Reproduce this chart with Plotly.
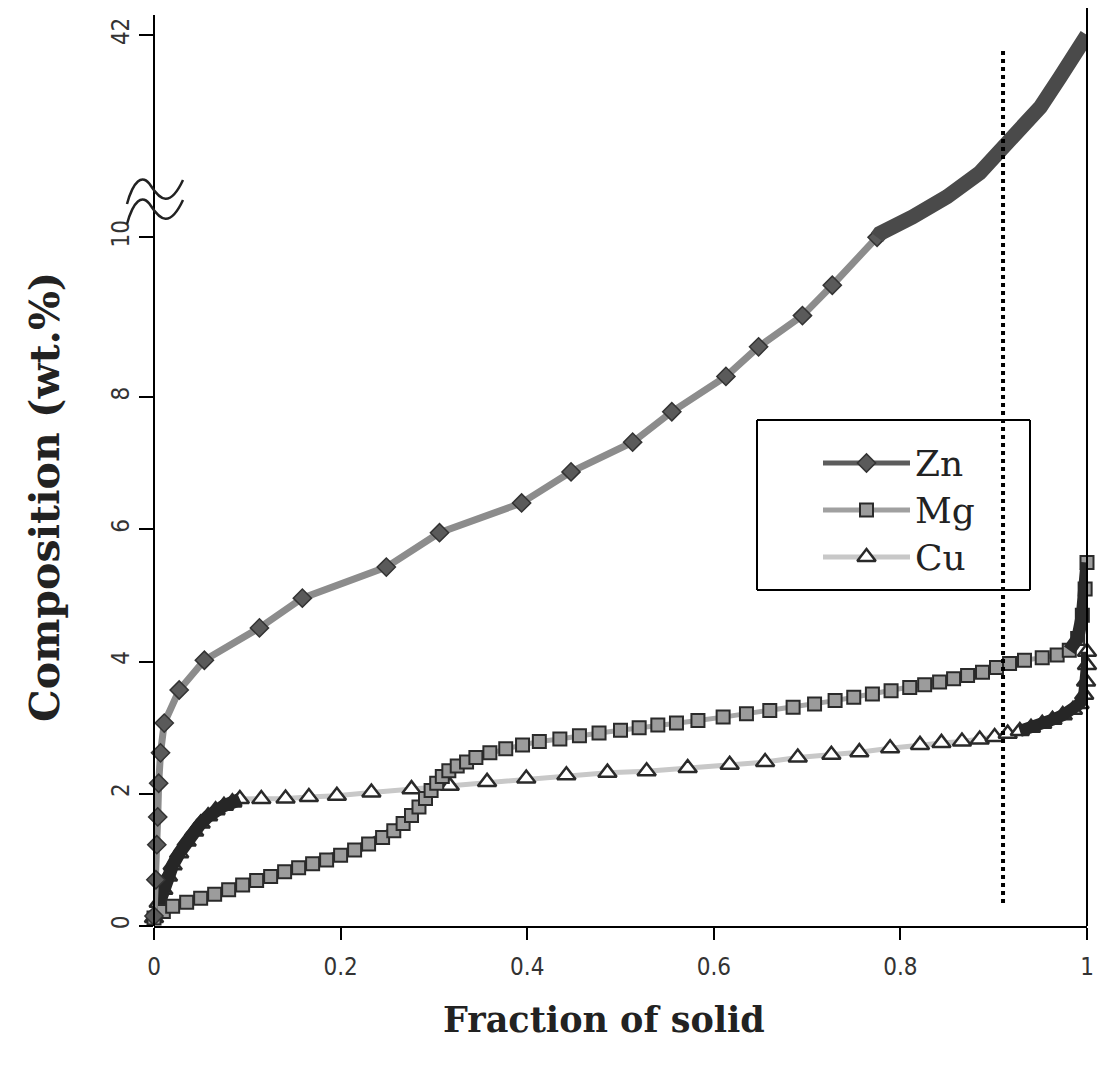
import numpy as np
import plotly.graph_objects as go

# ---------------- data ----------------
zn_x = [0.000, 0.002, 0.003, 0.004, 0.005, 0.007, 0.011, 0.027, 0.054, 0.113,
        0.159, 0.249, 0.306, 0.394, 0.447, 0.513, 0.555, 0.613, 0.648, 0.695,
        0.727, 0.775]
zn_y = [0.15, 0.70, 1.23, 1.65, 2.16, 2.62, 3.07, 3.57, 4.02, 4.51,
        4.96, 5.43, 5.95, 6.40, 6.87, 7.32, 7.78, 8.26, 8.63, 9.02,
        9.40, 10.0]
zn_hi_x = [0.775, 0.778, 0.813, 0.850, 0.885, 0.909, 0.928, 0.950, 0.971, 0.992, 1.000]
zn_hi_y = [10.0, 10.6, 13.2, 16.4, 20.2, 23.8, 26.5, 30.6, 35.3, 40.1, 42.0]

mg_x = [0.000, 0.010, 0.020, 0.035, 0.050, 0.065, 0.080, 0.095, 0.110, 0.125,
        0.140, 0.155, 0.170, 0.185, 0.200, 0.215, 0.230, 0.245, 0.257, 0.267,
        0.276, 0.284, 0.291, 0.297, 0.303, 0.309, 0.316, 0.325, 0.335, 0.345,
        0.360, 0.377, 0.395, 0.413, 0.435, 0.456, 0.477, 0.500, 0.520, 0.540,
        0.560, 0.583, 0.610, 0.635, 0.660, 0.685, 0.708, 0.730, 0.750, 0.770,
        0.790, 0.810, 0.826, 0.842, 0.857, 0.872, 0.888, 0.903, 0.917, 0.933,
        0.952, 0.968, 0.981, 0.990, 0.995, 0.998, 1.000]
mg_y = [0.12, 0.22, 0.30, 0.36, 0.42, 0.48, 0.55, 0.62, 0.69, 0.75,
        0.82, 0.88, 0.94, 1.00, 1.07, 1.15, 1.24, 1.34, 1.44, 1.55,
        1.67, 1.80, 1.93, 2.05, 2.16, 2.26, 2.35, 2.42, 2.48, 2.55,
        2.62, 2.68, 2.74, 2.79, 2.83, 2.88, 2.92, 2.96, 3.00, 3.04,
        3.07, 3.11, 3.16, 3.21, 3.26, 3.31, 3.36, 3.41, 3.46, 3.51,
        3.56, 3.61, 3.65, 3.69, 3.74, 3.79, 3.84, 3.91, 3.97, 4.02,
        4.06, 4.10, 4.17, 4.35, 4.70, 5.10, 5.50]

cu_x = [0.000, 0.005, 0.010, 0.015, 0.020, 0.027, 0.035, 0.043, 0.050, 0.058,
        0.066, 0.075, 0.084, 0.092, 0.115, 0.141, 0.166, 0.196, 0.233, 0.276,
        0.317, 0.357, 0.399, 0.442, 0.486, 0.528, 0.572, 0.617, 0.655, 0.690,
        0.726, 0.756, 0.789, 0.821, 0.844, 0.866, 0.885, 0.901, 0.915, 0.928,
        0.940, 0.952, 0.963, 0.974, 0.985, 0.992, 0.997, 0.999, 1.000, 1.000]
cu_y = [0.12, 0.35, 0.55, 0.75, 0.92, 1.10, 1.28, 1.43, 1.55, 1.66,
        1.75, 1.82, 1.87, 1.92, 1.92, 1.93, 1.95, 1.97, 2.02, 2.07,
        2.12, 2.18, 2.23, 2.28, 2.32, 2.34, 2.39, 2.44, 2.48, 2.55,
        2.59, 2.63, 2.69, 2.74, 2.77, 2.79, 2.82, 2.86, 2.91, 2.95,
        3.00, 3.06, 3.12, 3.19, 3.27, 3.36, 3.50, 3.70, 3.95, 4.15]

series_names = ["Zn", "Mg", "Cu"]
y_tick_vals = [0, 2, 4, 6, 8, 10, 42]
y_tick_text = ["0", "2", "4", "6", "8", "10", "42"]
x_tick_vals = [0, 0.2, 0.4, 0.6, 0.8, 1]
x_tick_text = ["0", "0.2", "0.4", "0.6", "0.8", "1"]
solid_mark = 0.91

# broken y axis: 0-8 linear, 8-10 slightly stretched, 10-42 compressed
BREAK_V = [0, 8, 10, 42]
BREAK_C = [0, 8, 10.42, 13.48]


def to_axis(v):
    return np.interp(np.asarray(v, dtype=float), BREAK_V, BREAK_C)


# pixel helpers for decorations (plot area in pixels)
L, R, T, B = 154, 1087, 8, 926
X_RANGE = [0, 1]
Y_RANGE = [0, (B - T) / 66.1]


def pxx(x):
    return (x - L) / (R - L)


def pxy(y):
    return (B - y) / (B - T)


def px_to_xdata(x):
    return X_RANGE[0] + pxx(x) * (X_RANGE[1] - X_RANGE[0])


def px_to_ydata(y):
    return Y_RANGE[0] + pxy(y) * (Y_RANGE[1] - Y_RANGE[0])


mg_x_a, mg_y_a = np.array(mg_x), np.array(mg_y)
cu_x_a, cu_y_a = np.array(cu_x), np.array(cu_y)

# series styles
styles = {
    "Zn": dict(line=dict(color="#8c8c8c", width=7),
               marker=dict(symbol="diamond", size=14, color="#5a5a5a",
                           line=dict(color="#333333", width=1.5)),
               legend_line="#5c5c5c"),
    "Mg": dict(line=dict(color="#a8a8a8", width=5),
               marker=dict(symbol="square", size=13, color="#9c9c9c",
                           line=dict(color="#2a2a2a", width=2)),
               legend_line="#a0a0a0"),
    "Cu": dict(line=dict(color="#c8c8c8", width=5),
               marker=dict(symbol="triangle-up", size=16, color="white",
                           line=dict(color="#2a2a2a", width=2.5)),
               legend_line="#c8c8c8"),
}

fig = go.Figure()

cu_dense1 = cu_x_a <= 0.092
cu_dense2 = cu_x_a >= 0.928
mg_dense1 = mg_x_a <= 0.335
mg_dense2 = mg_x_a >= 0.981

band = dict(mode="lines", showlegend=False, hoverinfo="skip", cliponaxis=False)

# Cu
fig.add_trace(go.Scatter(x=cu_x, y=to_axis(cu_y), name="Cu", mode="lines+markers",
                         line=styles["Cu"]["line"], marker=styles["Cu"]["marker"],
                         cliponaxis=False, showlegend=False))
fig.add_trace(go.Scatter(x=cu_x_a[cu_dense1], y=to_axis(cu_y_a[cu_dense1]),
                         line=dict(color="#262626", width=13), **band))
fig.add_trace(go.Scatter(x=cu_x_a[cu_dense2], y=to_axis(cu_y_a[cu_dense2]),
                         line=dict(color="#262626", width=12), **band))

# Mg
fig.add_trace(go.Scatter(x=mg_x_a[mg_dense1], y=to_axis(mg_y_a[mg_dense1]),
                         line=dict(color="#3a3a3a", width=9), **band))
fig.add_trace(go.Scatter(x=mg_x, y=to_axis(mg_y), name="Mg", mode="lines+markers",
                         line=styles["Mg"]["line"], marker=styles["Mg"]["marker"],
                         cliponaxis=False, showlegend=False))
fig.add_trace(go.Scatter(x=mg_x_a[mg_dense2], y=to_axis(mg_y_a[mg_dense2]),
                         line=dict(color="#2a2a2a", width=13), **band))

# Zn
fig.add_trace(go.Scatter(x=zn_x, y=to_axis(zn_y), name="Zn", mode="lines+markers",
                         line=styles["Zn"]["line"], marker=styles["Zn"]["marker"],
                         cliponaxis=False, showlegend=False))
fig.add_trace(go.Scatter(x=zn_hi_x, y=to_axis(zn_hi_y), mode="lines",
                         line=dict(color="#4a4a4a", width=15), showlegend=False,
                         hoverinfo="skip", cliponaxis=False))

# ---- legend (drawn by hand) ----
legend_rows_px = [463, 510, 557]
legend_line_px = (823, 910)
annotations = []
for name, row in zip(series_names, legend_rows_px):
    st = styles[name]
    yv = px_to_ydata(row)
    fig.add_trace(go.Scatter(x=[px_to_xdata(legend_line_px[0]), px_to_xdata(legend_line_px[1])],
                             y=[yv, yv], mode="lines", showlegend=False, hoverinfo="skip",
                             line=dict(color=st["legend_line"], width=5), cliponaxis=False))
    fig.add_trace(go.Scatter(x=[px_to_xdata(sum(legend_line_px) / 2)], y=[yv], mode="markers",
                             showlegend=False, hoverinfo="skip", marker=st["marker"],
                             cliponaxis=False))
    annotations.append(dict(text=name, xref="paper", yref="paper", x=pxx(913), y=pxy(row),
                            xanchor="left", yanchor="middle", showarrow=False,
                            font=dict(family="DejaVu Serif", size=36, color="#222222")))

# dotted vertical marker at fraction of solid ~0.91, drawn as a trace (runs through the legend frame)
fig.add_trace(go.Scatter(x=[solid_mark, solid_mark], y=[px_to_ydata(903), px_to_ydata(47)],
                         mode="lines", showlegend=False, hoverinfo="skip", cliponaxis=False,
                         line=dict(color="black", width=4, dash="dot")))

# legend frame as four unfilled lines
fx0, fx1, fy0, fy1 = pxx(757), pxx(1030), pxy(590), pxy(420)
for (a, b, c, d) in [(fx0, fy0, fx1, fy0), (fx1, fy0, fx1, fy1),
                     (fx1, fy1, fx0, fy1), (fx0, fy1, fx0, fy0)]:
    fig.add_shape(type="line", xref="paper", yref="paper", x0=a, y0=b, x1=c, y1=d,
                  line=dict(color="black", width=2))

# axes lines drawn as shapes (left axis has a break)
fig.add_shape(type="line", xref="paper", yref="paper", x0=0, x1=0, y0=0, y1=pxy(181),
              line=dict(color="black", width=2))
fig.add_shape(type="line", xref="paper", yref="paper", x0=0, x1=0, y0=pxy(217), y1=pxy(15),
              line=dict(color="black", width=2))
fig.add_shape(type="line", xref="paper", yref="paper", x0=1, x1=1, y0=0, y1=1,
              line=dict(color="black", width=2))


def wave_path(dy):
    pts = [(127, 204 + dy), (133, 182 + dy), (142, 172 + dy), (151, 186 + dy),
           (160, 200 + dy), (170, 208 + dy), (183, 180 + dy)]
    p = [(pxx(a), pxy(b)) for a, b in pts]
    return ("M{:.5f},{:.5f} C{:.5f},{:.5f} {:.5f},{:.5f} {:.5f},{:.5f} "
            "C{:.5f},{:.5f} {:.5f},{:.5f} {:.5f},{:.5f}").format(*[c for q in p for c in q])


for dy in (0, 20):
    fig.add_shape(type="path", xref="paper", yref="paper", path=wave_path(dy),
                  line=dict(color="#222222", width=2.5))

tick_font = dict(family="Liberation Sans Narrow, DejaVu Sans Condensed, Liberation Sans, sans-serif",
                 size=24, color="#333333")

annotations += [
    dict(text="<b>Composition (wt.%)</b>", xref="paper", yref="paper",
         x=pxx(45), y=pxy(497), textangle=-90, showarrow=False,
         xanchor="center", yanchor="middle",
         font=dict(family="DejaVu Serif", size=41, color="#222222")),
    dict(text="<b>Fraction of solid</b>", xref="paper", yref="paper",
         x=pxx(604), y=pxy(1020), showarrow=False,
         xanchor="center", yanchor="middle",
         font=dict(family="DejaVu Serif", size=35, color="#222222")),
]

fig.update_layout(
    width=1103, height=1073,
    margin=dict(l=L, r=1103 - R, t=T, b=1073 - B),
    paper_bgcolor="white", plot_bgcolor="white",
    showlegend=False,
    xaxis=dict(range=X_RANGE, tickvals=x_tick_vals, ticktext=x_tick_text,
               showgrid=False, zeroline=False, showline=True, linecolor="black",
               linewidth=2, ticks="outside", ticklen=12, tickwidth=2, tickcolor="black",
               tickfont=tick_font, ticklabelstandoff=6),
    yaxis=dict(range=Y_RANGE, tickvals=to_axis(y_tick_vals), ticktext=y_tick_text,
               showgrid=False, zeroline=False, showline=False,
               ticks="outside", ticklen=14, tickwidth=2, tickcolor="black",
               tickangle=-90, tickfont=tick_font),
    annotations=annotations,
)

fig.write_html("out.html")
